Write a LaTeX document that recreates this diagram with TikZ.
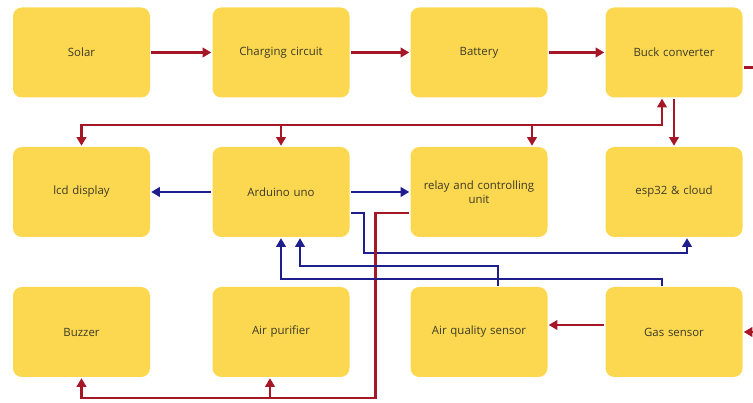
\documentclass[tikz,border=0pt]{standalone}
\usepackage{fontspec}
\setmainfont{Open Sans}
\usetikzlibrary{arrows.meta,positioning,calc}
\definecolor{boxfill}{RGB}{252,216,80}
\definecolor{pwrred}{RGB}{165,22,38}
\definecolor{sigblue}{RGB}{30,30,140}
\definecolor{labelgray}{RGB}{60,58,40}

\begin{document}
\begin{tikzpicture}[x=1cm,y=1cm,>={Triangle[length=5pt,width=5.5pt]},font=\fontsize{6.5}{8}\selectfont,line width=1.35pt,
  blk/.style={rectangle,rounded corners=5pt,fill=boxfill,text=labelgray,minimum width=2.74cm,minimum height=1.8cm,text width=2.5cm,align=center,inner sep=0pt},
  pwr/.style={draw=pwrred,->},
  sig/.style={draw=sigblue,->}]
\useasboundingbox (0,0) rectangle (15.06,8.06);
\node[blk] (solar) at (1.63,7.01) {Solar};
\node[blk] (charging) at (5.62,7.01) {Charging circuit};
\node[blk] (battery) at (9.58,7.01) {Battery};
\node[blk] (buck) at (13.48,7.01) {Buck converter};
\node[blk] (lcd) at (1.63,4.22) {lcd display};
\node[blk] (arduino) at (5.62,4.22) {Arduino uno};
\node[blk] (relay) at (9.58,4.22) {relay and controlling\\unit};
\node[blk] (esp) at (13.48,4.22) {esp32 \& cloud};
\node[blk] (buzzer) at (1.63,1.42) {Buzzer};
\node[blk] (purifier) at (5.62,1.42) {Air purifier};
\node[blk] (airq) at (9.58,1.42) {Air quality sensor};
\node[blk] (gas) at (13.48,1.42) {Gas sensor};
\coordinate (bus) at (0,5.56);
\coordinate (low) at (0,0.10);
\coordinate (edge) at (15.06,0);
\draw[pwr] (solar) -- (charging);
\draw[pwr] (charging) -- (battery);
\draw[pwr] (battery) -- (buck);
\draw[pwr,-] ([yshift=-.3cm]buck.east) -- ([yshift=-.3cm]buck.east -| edge);
\draw[pwr] (gas.east -| edge) -- (gas.east);
\coordinate (bk) at ([xshift=-.24cm]buck.south);
\draw[pwr,<->] (lcd.north) |- (bk |- bus) -- (bk);
\draw[pwr] (arduino.north |- bus) -- (arduino.north);
\coordinate (rl) at ([xshift=1.06cm]relay.north);
\draw[pwr] (rl |- bus) -- (rl);
\draw[pwr] (buck.south) -- (esp.north);
\draw[sig] (arduino) -- (lcd);
\draw[sig] (arduino) -- (relay);
\coordinate (ae) at ([yshift=-.42cm]arduino.east);
\draw[sig] (ae) -- ++(.26,0) |- ($(esp.south)+(.26,-.3)$) -- ([xshift=.26cm]esp.south);
\coordinate (rw) at ([yshift=-.42cm]relay.west);
\draw[pwr] (rw) -- ++(-.68,0) |- (buzzer.south |- low) -- (buzzer.south);
\coordinate (pf) at ([xshift=-.22cm]purifier.south);
\draw[pwr] (pf |- low) -- (pf);
\coordinate (aq) at ([xshift=.38cm]airq.north);
\draw[sig] (aq) |- ($(arduino.south)+(.38,-.56)$) -- ([xshift=.38cm]arduino.south);
\coordinate (gs) at ([xshift=-.24cm]gas.north);
\draw[sig] (gs) |- ($(arduino.south)+(0,-.82)$) -- (arduino.south);
\draw[pwr] ([yshift=.14cm]gas.west) -- ([yshift=.14cm]airq.east);
\end{tikzpicture}
\end{document}
